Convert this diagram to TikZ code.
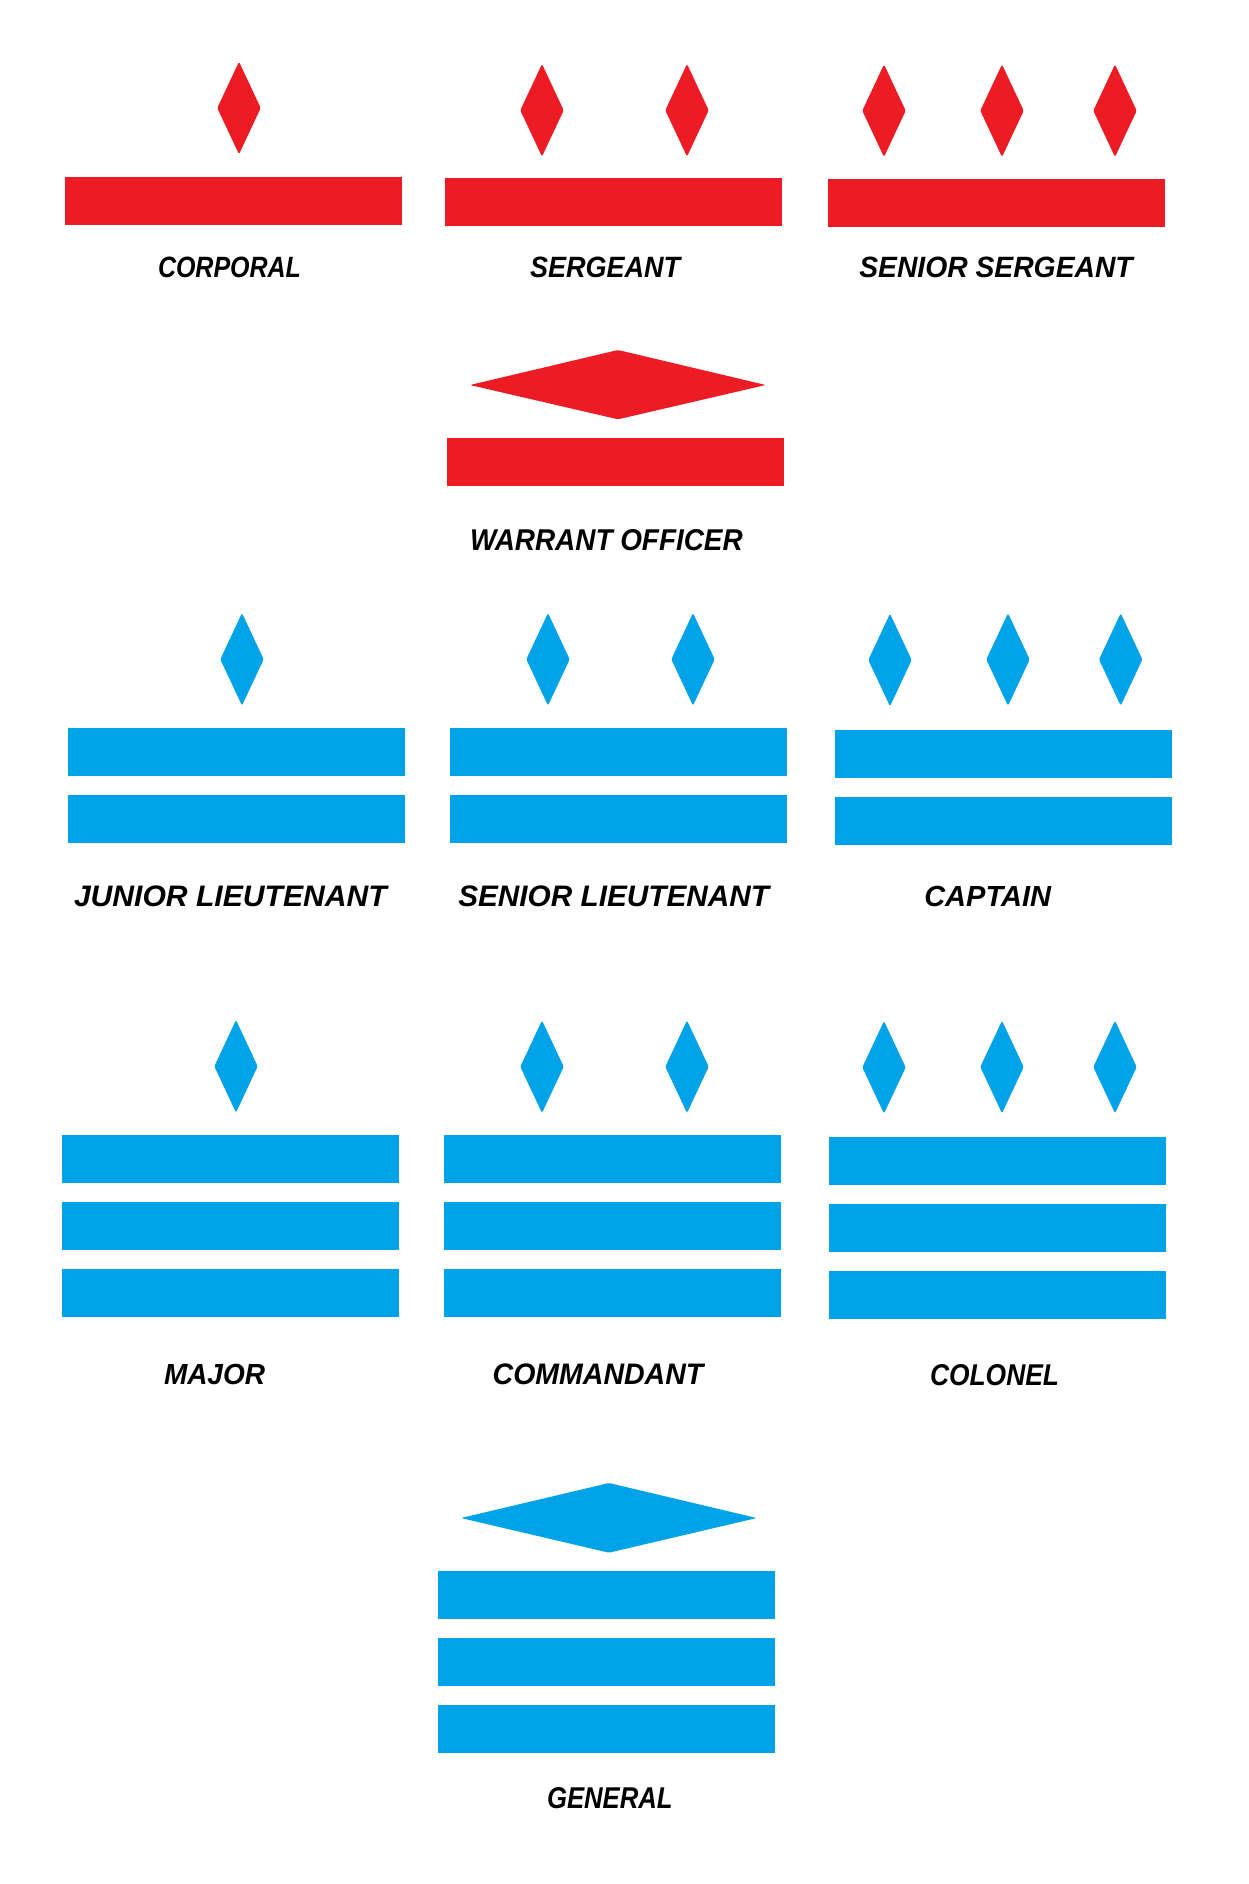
\documentclass[tikz,border=0pt]{standalone}
\usepackage{fontspec}
\setmainfont{Liberation Sans}
\usepackage{graphicx}
\definecolor{rankred}{RGB}{237,28,36}
\definecolor{rankblue}{RGB}{0,162,232}
\tikzset{
  lbl/.style={inner sep=0pt, outer sep=0pt, anchor=north west, text=black, font=\bfseries\itshape},
  gemshape/.style={rounded corners=1.5pt}
}
% tall gem: centre x, middle y, colour
\newcommand\gem[3]{\fill[#3,gemshape] (#1,#2-46.3) -- (#1+21.7,#2) -- (#1,#2+46.3) -- (#1-21.7,#2) -- cycle;}
% wide gem: left, right, top, bottom, centre x, middle y, colour
\newcommand\widegem[7]{\fill[#7,gemshape] (#1,#6) -- (#5,#3) -- (#2,#6) -- (#5,#4) -- cycle;}
% stripe: x1,y1,x2,y2,colour
\newcommand\stripe[5]{\fill[#5] (#1,#2) rectangle (#3,#4);}
% label: name, left x, top y, width, height, text
\newcommand\ranklabel[6]{\node[lbl] (#1) at (#2,#3) {\resizebox{#4pt}{#5pt}{#6}};}
\begin{document}
\begin{tikzpicture}[x=1pt,y=-1pt]
\fill[white] (0,0) rectangle (1248,1884);
\useasboundingbox (0,0) rectangle (1248,1884);

% ---------- Corporal ----------
\gem{239}{108}{rankred}
\stripe{65}{177}{402}{225}{rankred}
\ranklabel{corporal}{158}{257}{143}{20.5}{CORPORAL}

% ---------- Sergeant ----------
\gem{542}{110.3}{rankred}
\gem{687}{110.3}{rankred}
\stripe{445}{178}{782}{225.7}{rankred}
\ranklabel{sergeant}{530}{257.3}{150}{20.5}{SERGEANT}

% ---------- Senior sergeant ----------
\gem{884}{110.7}{rankred}
\gem{1002}{110.7}{rankred}
\gem{1115}{110.7}{rankred}
\stripe{828}{179}{1165}{227}{rankred}
\ranklabel{srsergeant}{859.3}{257.3}{273.4}{20.5}{SENIOR SERGEANT}

% ---------- Warrant officer ----------
\widegem{470}{765.7}{350}{419.3}{618}{385}{rankred}
\stripe{447}{437.7}{783.7}{485.7}{rankred}
\ranklabel{warrant}{470}{529}{272.7}{21}{WARRANT OFFICER}

% ---------- Junior lieutenant ----------
\gem{242}{659.3}{rankblue}
\stripe{68}{727.7}{405}{776}{rankblue}
\stripe{68}{795}{405}{843}{rankblue}
\ranklabel{jrlieut}{74}{886}{312.7}{20.7}{JUNIOR LIEUTENANT}

% ---------- Senior lieutenant ----------
\gem{548}{659.3}{rankblue}
\gem{693}{659.3}{rankblue}
\stripe{450}{728}{787}{776}{rankblue}
\stripe{450}{795}{787}{843}{rankblue}
\ranklabel{srlieut}{458.3}{886}{310.7}{20.7}{SENIOR LIEUTENANT}

% ---------- Captain ----------
\gem{890}{660}{rankblue}
\gem{1008}{659.5}{rankblue}
\gem{1120.7}{659.5}{rankblue}
\stripe{835}{730}{1172}{778}{rankblue}
\stripe{835}{797}{1172}{845}{rankblue}
\ranklabel{captain}{924.3}{885.7}{126.7}{20.3}{CAPTAIN}

% ---------- Major ----------
\gem{236}{1066.3}{rankblue}
\stripe{62}{1135}{399}{1182.7}{rankblue}
\stripe{62}{1202}{399}{1249.7}{rankblue}
\stripe{62}{1269}{399}{1316.7}{rankblue}
\ranklabel{major}{164}{1364}{101}{20.3}{MAJOR}

% ---------- Commandant ----------
\gem{542}{1066.7}{rankblue}
\gem{687}{1066.7}{rankblue}
\stripe{444}{1135}{781}{1183}{rankblue}
\stripe{444}{1202}{781}{1250}{rankblue}
\stripe{444}{1269}{781}{1317}{rankblue}
\ranklabel{commandant}{492.7}{1364}{210.6}{20.7}{COMMANDANT}

% ---------- Colonel ----------
\gem{884}{1067.3}{rankblue}
\gem{1002}{1067}{rankblue}
\gem{1115}{1067}{rankblue}
\stripe{829}{1137}{1166}{1185}{rankblue}
\stripe{829}{1204}{1166}{1252}{rankblue}
\stripe{829}{1271}{1166}{1319}{rankblue}
\ranklabel{colonel}{930}{1364}{129}{21}{COLONEL}

% ---------- General ----------
\widegem{461}{756.7}{1483}{1552.7}{609}{1518}{rankblue}
\stripe{438}{1571}{775}{1619}{rankblue}
\stripe{438}{1638}{775}{1686}{rankblue}
\stripe{438}{1705}{775}{1753}{rankblue}
\ranklabel{general}{547}{1787.3}{125.7}{21}{GENERAL}
\end{tikzpicture}
\end{document}
